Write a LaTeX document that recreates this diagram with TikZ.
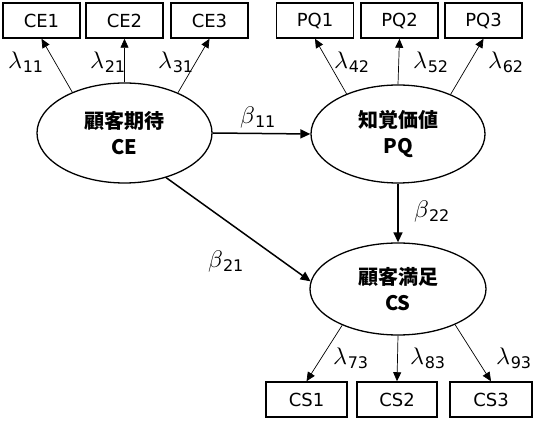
\documentclass[tikz,border=0pt]{standalone}
\usepackage{unicode-math}
\setmainfont{DejaVu Sans}
\setmathfont{Latin Modern Math}
\newfontfamily\jpfont{Noto Sans CJK JP}
\usetikzlibrary{shapes.geometric,arrows.meta}
\newcommand{\lbl}[2]{\ensuremath{#1}{\fontsize{16}{16}\selectfont\raisebox{-4pt}{#2}}}
\begin{document}
\begin{tikzpicture}[x=1pt,y=-1pt,
  obs/.style={draw,line width=1.5pt,minimum width=77pt,minimum height=35pt,inner sep=0pt,font=\fontsize{18}{20}\selectfont},
  lat/.style={draw,ellipse,line width=1.3pt,inner sep=0pt,align=center,font=\fontsize{20}{26}\selectfont\bfseries\jpfont},
  load/.style={line width=0.7pt,-{Triangle[length=9pt,width=8pt]}},
  path/.style={line width=1.5pt,-{Triangle[length=10pt,width=9pt]}},
  lab/.style={inner sep=0pt,font=\fontsize{24}{24}\selectfont}]
\useasboundingbox (0,0) rectangle (533,427);
\node[obs] (ce1) at (41.5,20.5) {CE1};
\node[obs] (ce2) at (124.5,20.5) {CE2};
\node[obs] (ce3) at (209.5,20.5) {CE3};
\node[obs] (pq1) at (315,20.5) {PQ1};
\node[obs] (pq2) at (399.5,20.5) {PQ2};
\node[obs] (pq3) at (483.5,20.5) {PQ3};
\node[obs,minimum width=81pt] (cs1) at (306.5,399.5) {CS1};
\node[obs,minimum width=80pt] (cs2) at (397,399.5) {CS2};
\node[obs,minimum width=82pt] (cs3) at (491,399.5) {CS3};
\node[lat,minimum width=175pt,minimum height=100pt] (ce) at (124.5,133) {顧客期待\\CE};
\node[lat,minimum width=174pt,minimum height=98pt] (pq) at (398,134) {知覚価値\\PQ};
\node[lat,minimum width=176pt,minimum height=92pt] (cs) at (398,289) {顧客満足\\CS};
\draw[load] (ce.142) -- (ce1.south);
\draw[load] (ce.north) -- (ce2.south);
\draw[load] (ce.37) -- (ce3.south);
\draw[load] (pq.142) -- (pq1.south);
\draw[load] (pq.north) -- (pq2.south);
\draw[load] (pq.37) -- (pq3.south);
\draw[load] (cs.213) -- (cs1.north);
\draw[load] (cs.south) -- (cs2.north);
\draw[load] (cs.-32) -- (cs3.north);
\draw[path] (ce.east) -- (pq.west);
\draw[path] (pq.south) -- (cs.north);
\draw[path] (ce.-47) -- (cs.175);
\node[lab] (l11) at (26,62) {\lbl{\lambda}{11}};
\node[lab] (l21) at (108,62) {\lbl{\lambda}{21}};
\node[lab] (l31) at (176,62) {\lbl{\lambda}{31}};
\node[lab] (l42) at (352,62) {\lbl{\lambda}{42}};
\node[lab] (l52) at (431,62) {\lbl{\lambda}{52}};
\node[lab] (l62) at (506,62) {\lbl{\lambda}{62}};
\node[lab] (l73) at (351,358) {\lbl{\lambda}{73}};
\node[lab] (l83) at (428,358) {\lbl{\lambda}{83}};
\node[lab] (l93) at (514,358) {\lbl{\lambda}{93}};
\node[lab] (b11) at (258,117) {\lbl{\beta}{11}};
\node[lab] (b22) at (432,211) {\lbl{\beta}{22}};
\node[lab] (b21) at (226,261) {\lbl{\beta}{21}};
\end{tikzpicture}
\end{document}
